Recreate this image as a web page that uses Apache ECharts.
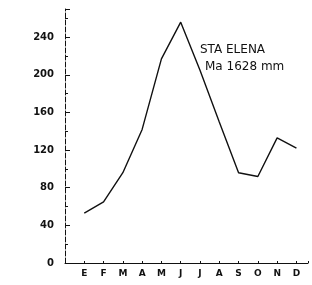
<!DOCTYPE html>
<html>
<head>
<meta charset="utf-8">
<script src="https://cdn.jsdelivr.net/npm/echarts@6/dist/echarts.min.js"></script>
<style>
  html, body { margin: 0; padding: 0; background: #fff; }
  #main { width: 312px; height: 285px; }
</style>
</head>
<body>
<div id="main"></div>
<script>
// 月份（西班牙文首字母）
var months = ['E', 'F', 'M', 'A', 'M', 'J', 'J', 'A', 'S', 'O', 'N', 'D'];
// 月降水量 mm
var rain = [53, 65, 96, 142, 217, 256, 205, 150, 96, 92, 133, 122];
var yTicks = [0, 40, 80, 120, 160, 200, 240];
var station = 'STA ELENA';
var annual = 'Ma 1628 mm';

var myChart = echarts.init(document.getElementById('main'));
var option = {
    animation: false,
    backgroundColor: '#fff',
    title: [
        {
            text: station,
            left: 200,
            top: 44,
            padding: 0,
            textStyle: { fontFamily: 'DejaVu Sans', fontSize: 12, fontWeight: 'normal', color: '#111' }
        },
        {
            text: annual,
            left: 205,
            top: 61,
            padding: 0,
            textStyle: { fontFamily: 'DejaVu Sans', fontSize: 12, fontWeight: 'normal', color: '#111' }
        }
    ],
    grid: { left: 65, right: 4, top: 9, bottom: 22 },
    xAxis: {
        type: 'value',
        min: 0,
        max: 12.6,
        interval: 1,
        splitLine: { show: false },
        axisLine: { lineStyle: { color: '#111', width: 1 } },
        axisTick: { inside: true, length: 2, lineStyle: { color: '#111' } },
        axisLabel: {
            margin: 6,
            color: '#111',
            fontFamily: 'DejaVu Sans',
            fontSize: 9,
            fontWeight: 'bold',
            formatter: function (v) {
                return Number.isInteger(v) && v >= 1 ? months[v - 1] : '';
            }
        }
    },
    yAxis: {
        type: 'value',
        min: 0,
        max: 270,
        interval: 40,
        splitLine: { show: false },
        axisLine: { show: true, lineStyle: { color: '#111', width: 1, type: [5, 2] } },
        axisTick: { inside: true, length: 5, lineStyle: { color: '#111' } },
        minorTick: { show: true, splitNumber: 2, length: 3, lineStyle: { color: '#111' } },
        axisLabel: {
            margin: 11,
            color: '#111',
            fontFamily: 'DejaVu Sans',
            fontSize: 10,
            fontWeight: 'bold',
            formatter: function (v) {
                return yTicks.indexOf(v) >= 0 ? v : '';
            }
        }
    },
    series: [
        {
            type: 'line',
            data: rain.map(function (v, i) { return [i + 1, v]; }),
            symbol: 'none',
            lineStyle: { color: '#111', width: 1.4 }
        }
    ]
};
myChart.setOption(option);
</script>
</body>
</html>
